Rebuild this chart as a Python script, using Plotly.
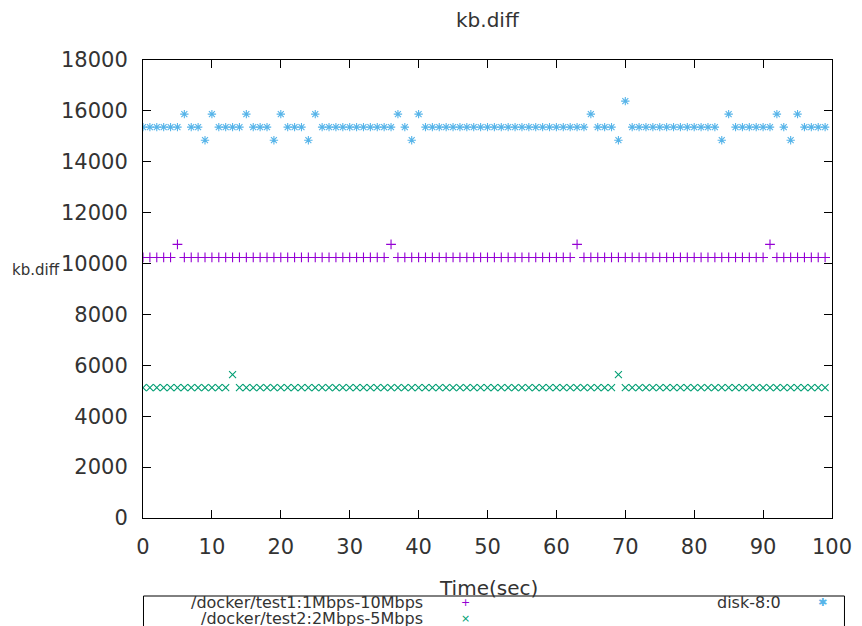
import plotly.graph_objects as go

# ---- data ----
time_sec = [0, 1, 2, 3, 4, 5, 6, 7, 8, 9, 10, 11, 12, 13, 14, 15, 16, 17, 18, 19,
            20, 21, 22, 23, 24, 25, 26, 27, 28, 29, 30, 31, 32, 33, 34, 35, 36, 37, 38, 39,
            40, 41, 42, 43, 44, 45, 46, 47, 48, 49, 50, 51, 52, 53, 54, 55, 56, 57, 58, 59,
            60, 61, 62, 63, 64, 65, 66, 67, 68, 69, 70, 71, 72, 73, 74, 75, 76, 77, 78, 79,
            80, 81, 82, 83, 84, 85, 86, 87, 88, 89, 90, 91, 92, 93, 94, 95, 96, 97, 98, 99]

test1 = [10240, 10240, 10240, 10240, 10240, 10752, 10240, 10240, 10240, 10240,
         10240, 10240, 10240, 10240, 10240, 10240, 10240, 10240, 10240, 10240,
         10240, 10240, 10240, 10240, 10240, 10240, 10240, 10240, 10240, 10240,
         10240, 10240, 10240, 10240, 10240, 10240, 10752, 10240, 10240, 10240,
         10240, 10240, 10240, 10240, 10240, 10240, 10240, 10240, 10240, 10240,
         10240, 10240, 10240, 10240, 10240, 10240, 10240, 10240, 10240, 10240,
         10240, 10240, 10240, 10752, 10240, 10240, 10240, 10240, 10240, 10240,
         10240, 10240, 10240, 10240, 10240, 10240, 10240, 10240, 10240, 10240,
         10240, 10240, 10240, 10240, 10240, 10240, 10240, 10240, 10240, 10240,
         10240, 10752, 10240, 10240, 10240, 10240, 10240, 10240, 10240, 10240]

test2 = [5120, 5120, 5120, 5120, 5120, 5120, 5120, 5120, 5120, 5120,
         5120, 5120, 5120, 5632, 5120, 5120, 5120, 5120, 5120, 5120,
         5120, 5120, 5120, 5120, 5120, 5120, 5120, 5120, 5120, 5120,
         5120, 5120, 5120, 5120, 5120, 5120, 5120, 5120, 5120, 5120,
         5120, 5120, 5120, 5120, 5120, 5120, 5120, 5120, 5120, 5120,
         5120, 5120, 5120, 5120, 5120, 5120, 5120, 5120, 5120, 5120,
         5120, 5120, 5120, 5120, 5120, 5120, 5120, 5120, 5120, 5632,
         5120, 5120, 5120, 5120, 5120, 5120, 5120, 5120, 5120, 5120,
         5120, 5120, 5120, 5120, 5120, 5120, 5120, 5120, 5120, 5120,
         5120, 5120, 5120, 5120, 5120, 5120, 5120, 5120, 5120, 5120]

disk = [15360, 15360, 15360, 15360, 15360, 15360, 15872, 15360, 15360, 14848,
        15872, 15360, 15360, 15360, 15360, 15872, 15360, 15360, 15360, 14848,
        15872, 15360, 15360, 15360, 14848, 15872, 15360, 15360, 15360, 15360,
        15360, 15360, 15360, 15360, 15360, 15360, 15360, 15872, 15360, 14848,
        15872, 15360, 15360, 15360, 15360, 15360, 15360, 15360, 15360, 15360,
        15360, 15360, 15360, 15360, 15360, 15360, 15360, 15360, 15360, 15360,
        15360, 15360, 15360, 15360, 15360, 15872, 15360, 15360, 15360, 14848,
        16384, 15360, 15360, 15360, 15360, 15360, 15360, 15360, 15360, 15360,
        15360, 15360, 15360, 15360, 14848, 15872, 15360, 15360, 15360, 15360,
        15360, 15360, 15872, 15360, 14848, 15872, 15360, 15360, 15360, 15360]

series_names = ["/docker/test1:1Mbps-10Mbps", "/docker/test2:2Mbps-5Mbps", "disk-8:0"]
series_colors = ["#9400D3", "#009E73", "#56B4E9"]
series_symbols = ["cross-thin-open", "x-thin-open", "asterisk-open"]
legend_glyphs = ["+", "×", "✱"]

x_ticks = [0, 10, 20, 30, 40, 50, 60, 70, 80, 90, 100]
y_ticks = [0, 2000, 4000, 6000, 8000, 10000, 12000, 14000, 16000, 18000]

FONT = "DejaVu Sans"
TXT = "#333333"

# plot area in page pixels: x 142.5..832.5, y 60..518 (page has an 8px body margin)
PX0, PX1, PY0, PY1 = 142.5, 832.5, 60, 518


def px(v):
    return (v - PX0) / (PX1 - PX0)


def py(v):
    return (PY1 - v) / (PY1 - PY0)


fig = go.Figure()
for name, ys, col, sym in zip(series_names, [test1, test2, disk], series_colors, series_symbols):
    fig.add_trace(go.Scatter(
        x=time_sec, y=ys, mode="markers", name=name, showlegend=False,
        marker=dict(symbol=sym, size=7, color=col, line=dict(color=col, width=1.1)),
    ))

axis_common = dict(
    showline=True, linecolor="black", linewidth=1, mirror="ticks",
    ticks="inside", ticklen=8, tickcolor="black", tickwidth=1,
    showgrid=False, zeroline=False, automargin=False,
    tickfont=dict(family=FONT, size=21, color=TXT),
)
fig.update_xaxes(range=[0, 100], tickvals=x_ticks, ticktext=[str(v) for v in x_ticks],
                 ticklabelstandoff=10, **axis_common)
fig.update_yaxes(range=[0, 18000], tickvals=y_ticks, ticktext=[str(v) for v in y_ticks],
                 ticklabelstandoff=10, **axis_common)

annotations = [
    dict(text="kb.diff", x=px(487.5), y=py(20), xref="paper", yref="paper",
         showarrow=False, font=dict(family=FONT, size=20, color=TXT),
         xanchor="center", yanchor="middle"),
    dict(text="kb.diff", x=px(35), y=py(270), xref="paper", yref="paper",
         showarrow=False, font=dict(family=FONT, size=15, color=TXT),
         xanchor="center", yanchor="middle"),
    dict(text="Time(sec)", x=px(489), y=py(588), xref="paper", yref="paper",
         showarrow=False, font=dict(family=FONT, size=20, color=TXT),
         xanchor="center", yanchor="middle"),
]
legend_pos = [(px(425), px(465), py(602)),
              (px(425), px(465), py(618)),
              (px(783), px(823), py(602))]
for name, col, glyph, (tx, sx, ty) in zip(series_names, series_colors, legend_glyphs, legend_pos):
    annotations.append(dict(text=name, x=tx, y=ty, xref="paper", yref="paper", showarrow=False,
                            xanchor="right", yanchor="middle",
                            font=dict(family=FONT, size=16, color=TXT)))
    annotations.append(dict(text=glyph, x=sx, y=ty, xref="paper", yref="paper", showarrow=False,
                            xanchor="center", yanchor="middle",
                            font=dict(family=FONT, size=11, color=col)))

fig.update_layout(
    width=854, height=618,
    margin=dict(l=PX0 - 8, r=854 - (PX1 - 8), t=PY0 - 8, b=618 - (PY1 - 8)),
    plot_bgcolor="white", paper_bgcolor="white",
    annotations=annotations,
    shapes=[dict(type="rect", xref="paper", yref="paper",
                 x0=px(143), x1=px(845), y0=py(596), y1=py(660),
                 line=dict(color="black", width=1))],
)

fig.write_html("out.html")
